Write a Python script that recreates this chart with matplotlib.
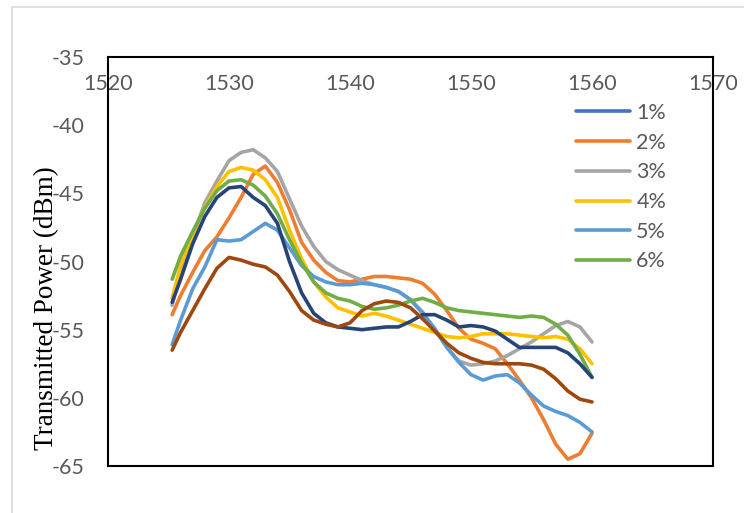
import matplotlib
matplotlib.use("Agg")
import matplotlib.pyplot as plt
from matplotlib.lines import Line2D
from matplotlib.patches import Rectangle

plt.rcParams["axes.unicode_minus"] = False

# wavelength grid (nm)
wavelength = [1525.3] + list(range(1526, 1561))

p2 = [-53.9, -52.5, -50.8, -49.2, -48.2, -46.8, -45.3, -43.6, -43.0, -44.2,
      -46.2, -48.6, -49.9, -50.8, -51.4, -51.5, -51.3, -51.1, -51.1, -51.2,
      -51.3, -51.6, -52.4, -53.6, -54.9, -55.7, -56.0, -56.4, -57.5, -58.7,
      -60.0, -61.6, -63.4, -64.5, -64.1, -62.6]
p3 = [-53.2, -50.6, -48.2, -45.7, -44.1, -42.6, -42.0, -41.8, -42.4, -43.4,
      -45.4, -47.4, -48.9, -50.0, -50.6, -51.0, -51.4, -51.7, -51.9, -52.2,
      -52.8, -53.7, -55.0, -56.3, -57.3, -57.6, -57.5, -57.3, -56.9, -56.4,
      -55.9, -55.3, -54.7, -54.4, -54.8, -55.9]
p4 = [-52.7, -50.3, -48.0, -46.0, -44.5, -43.4, -43.1, -43.3, -44.0, -45.3,
      -47.7, -49.8, -51.5, -52.6, -53.4, -53.7, -54.0, -53.8, -54.0, -54.3,
      -54.6, -54.9, -55.2, -55.5, -55.6, -55.5, -55.3, -55.3, -55.3, -55.4,
      -55.5, -55.6, -55.5, -55.7, -56.4, -57.5]
p5 = [-56.1, -54.3, -52.0, -50.4, -48.4, -48.5, -48.4, -47.8, -47.2, -47.7,
      -49.0, -50.3, -51.1, -51.5, -51.7, -51.7, -51.6, -51.7, -51.9, -52.2,
      -52.8, -53.8, -54.9, -56.3, -57.4, -58.3, -58.7, -58.4, -58.3, -58.9,
      -59.8, -60.6, -61.0, -61.3, -61.8, -62.5]
p6 = [-51.3, -49.6, -47.8, -46.1, -44.8, -44.1, -44.0, -44.4, -45.2, -46.5,
      -48.4, -50.1, -51.5, -52.3, -52.7, -52.9, -53.3, -53.5, -53.4, -53.2,
      -52.9, -52.7, -53.0, -53.4, -53.6, -53.7, -53.8, -53.9, -54.0, -54.1,
      -54.0, -54.1, -54.6, -55.4, -56.8, -58.5]
p_navy = [-53.0, -51.3, -48.7, -46.7, -45.3, -44.6, -44.5, -45.3, -45.9, -47.2,
          -50.0, -52.3, -53.8, -54.5, -54.8, -54.9, -55.0, -54.9, -54.8, -54.8,
          -54.4, -53.9, -53.9, -54.3, -54.8, -54.7, -54.8, -55.1, -55.7, -56.3,
          -56.3, -56.3, -56.3, -56.7, -57.5, -58.5]
p_brown = [-56.5, -55.2, -53.6, -52.0, -50.5, -49.7, -49.9, -50.2, -50.4, -51.0,
           -52.2, -53.6, -54.3, -54.6, -54.8, -54.5, -53.6, -53.1, -52.9, -53.0,
           -53.4, -54.2, -55.1, -56.0, -56.7, -57.1, -57.4, -57.5, -57.5, -57.5,
           -57.6, -57.9, -58.6, -59.5, -60.1, -60.3]

legend_labels = ["1%", "2%", "3%", "4%", "5%", "6%"]
legend_colors = ["#4472C4", "#ED7D31", "#A5A5A5", "#FFC000", "#5B9BD5", "#70AD47"]

series = [p2, p3, p4, p5, p6, p_navy, p_brown]
series_colors = ["#ED7D31", "#A5A5A5", "#FFC000", "#5B9BD5", "#70AD47", "#264478", "#9E480E"]

fig = plt.figure(figsize=(7.44, 5.13), dpi=100)
ax = fig.add_axes([108/744, 1 - 466/513, 605/744, 409/513])

for ys, c in zip(series, series_colors):
    ax.plot(wavelength, ys, color=c, lw=2.6, solid_capstyle="round", solid_joinstyle="round")

ax.set_xlim(1520, 1570)
ax.set_ylim(-65, -35)
ax.set_xticks(range(1520, 1571, 10))
ax.set_yticks(range(-65, -34, 5))
ax.xaxis.set_ticks_position("top")
ax.tick_params(axis="x", length=0, pad=-27, labelsize=15.5, labelcolor="#595959")
ax.tick_params(axis="y", length=0, pad=17, labelsize=15.5, labelcolor="#595959")
for lab in ax.get_xticklabels() + ax.get_yticklabels():
    lab.set_fontfamily("Lato")
for sp in ax.spines.values():
    sp.set_linewidth(1.5)
    sp.set_color("black")

fig.text(47/744, 1 - 308/513, "Transmitted Power (dBm)", rotation=90,
         ha="center", va="center", fontsize=19.5, family="Liberation Serif")

handles = [Line2D([], [], color=c, lw=2.6, solid_capstyle="round") for c in legend_colors]
leg = ax.legend(handles, legend_labels, loc="upper left",
                bbox_to_anchor=(576/744, 1 - 103/513), bbox_transform=fig.transFigure,
                frameon=False, handlelength=2.5, handletextpad=0.3,
                labelspacing=0.45, borderpad=0, borderaxespad=0,
                prop={"family": "Lato", "size": 15.5})
for t in leg.get_texts():
    t.set_color("#595959")

# light chart-area border (extends past the image on the right and bottom)
fig.patches.append(Rectangle((12/744, -0.1), 1.0, 1.1 - 7/513, transform=fig.transFigure,
                             fill=False, edgecolor="#D9D9D9", lw=1.2))

fig.savefig("out.png", dpi=100)
